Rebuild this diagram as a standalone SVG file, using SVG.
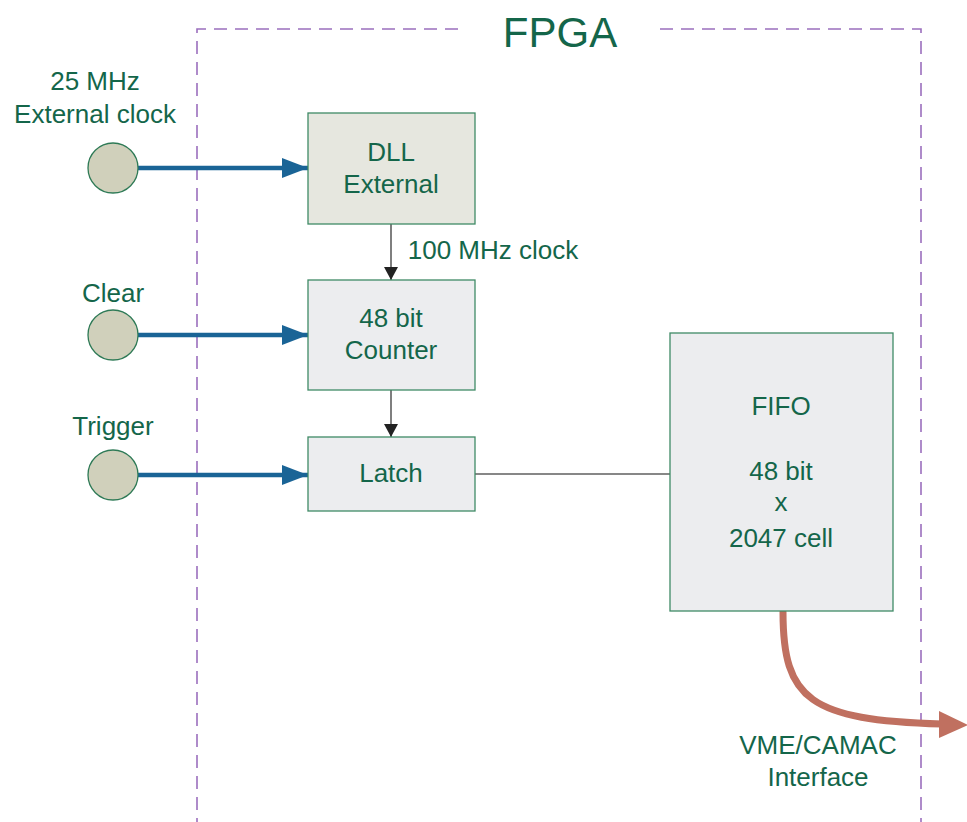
<svg xmlns="http://www.w3.org/2000/svg" width="967" height="822" viewBox="0 0 967 822">
<defs>
<style>
text{font-family:"Liberation Sans",Arial,sans-serif;fill:#14664a;font-size:26px;text-anchor:middle}
.box{stroke:#3f8a66;stroke-width:1.3}
.in{stroke:#1a6496;stroke-width:4.5;fill:none}
.thin{stroke:#555;stroke-width:1.5;fill:none}
.dash{stroke:#9b6fbd;stroke-width:1.6;fill:none;stroke-dasharray:13 8}
</style>
<marker id="ab" markerUnits="userSpaceOnUse" markerWidth="28" markerHeight="20" refX="26" refY="10" orient="auto"><path d="M0,0 L26,10 L0,20 Z" fill="#1a6496"/></marker>
<marker id="ak" markerUnits="userSpaceOnUse" markerWidth="14" markerHeight="16" refX="13" refY="7" orient="auto"><path d="M0,0 L13,7 L0,14 Z" fill="#222"/></marker>
</defs>
<rect width="967" height="822" fill="#fff"/>
<g id="fpga">
<path class="dash" d="M458,29 H197 V822"/>
<path class="dash" d="M660,29 H921 V822"/>
<text x="560" y="47" style="font-size:42px">FPGA</text>
</g>
<g id="connectors">
<line class="in" x1="138" y1="168" x2="308" y2="168" marker-end="url(#ab)"/>
<line class="in" x1="138" y1="335" x2="308" y2="335" marker-end="url(#ab)"/>
<line class="in" x1="138" y1="475" x2="308" y2="475" marker-end="url(#ab)"/>
<line class="thin" x1="391" y1="224" x2="391" y2="280" marker-end="url(#ak)"/>
<line class="thin" x1="391" y1="390" x2="391" y2="437" marker-end="url(#ak)"/>
<line x1="475" y1="474" x2="670" y2="474" stroke="#111" stroke-width="1.2"/>
<path d="M783,612 C783,700 810,720 942,724" stroke="#c07060" stroke-width="7" fill="none" stroke-linecap="round"/>
<path d="M939,711 L968,725 L939,738 Z" fill="#c07060"/>
<text x="493" y="259">100 MHz clock</text>
<text x="818" y="754">VME/CAMAC</text>
<text x="818" y="786">Interface</text>
</g>
<g id="clk">
<circle cx="113" cy="168" r="25" fill="#d0d0bb" stroke="#2e7a56" stroke-width="1.3"/>
<text x="95" y="90">25 MHz</text>
<text x="95" y="123">External clock</text>
</g>
<g id="clear">
<circle cx="113" cy="335" r="25" fill="#d0d0bb" stroke="#2e7a56" stroke-width="1.3"/>
<text x="113" y="302">Clear</text>
</g>
<g id="trigger">
<circle cx="113" cy="475" r="25" fill="#d0d0bb" stroke="#2e7a56" stroke-width="1.3"/>
<text x="113" y="435">Trigger</text>
</g>
<g id="dll">
<rect class="box" x="308" y="113" width="167" height="111" fill="#e6e7df"/>
<text x="391" y="161">DLL</text>
<text x="391" y="193">External</text>
</g>
<g id="counter">
<rect class="box" x="308" y="280" width="167" height="110" fill="#ecedef"/>
<text x="391" y="327">48 bit</text>
<text x="391" y="359">Counter</text>
</g>
<g id="latch">
<rect class="box" x="308" y="437" width="167" height="74" fill="#ecedef"/>
<text x="391" y="482">Latch</text>
</g>
<g id="fifo">
<rect class="box" x="670" y="333" width="223" height="278" fill="#ecedef"/>
<text x="781" y="415">FIFO</text>
<text x="781" y="480">48 bit</text>
<text x="781" y="511">x</text>
<text x="781" y="547">2047 cell</text>
</g>
</svg>
